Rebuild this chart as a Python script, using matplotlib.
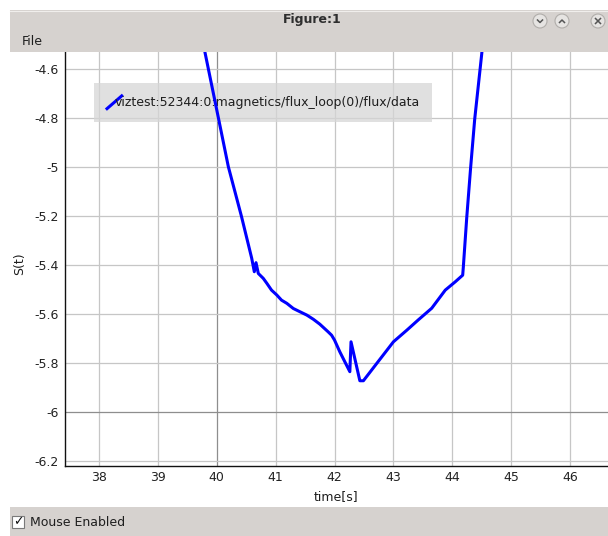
import matplotlib
matplotlib.use('Agg')
import matplotlib.pyplot as plt
from matplotlib.patches import Rectangle, Ellipse
from matplotlib.lines import Line2D
from matplotlib.legend_handler import HandlerBase

W, H = 608, 536

# flux loop signal
time_s = [39.76, 39.80, 40.03, 40.197, 40.42, 40.594, 40.638, 40.667, 40.706,
          40.79, 40.85, 40.93, 41.02, 41.10, 41.19, 41.30, 41.41, 41.53, 41.64,
          41.75, 41.89, 41.95, 42.00, 42.09, 42.26, 42.28, 42.43, 42.49, 42.74,
          43.00, 43.23, 43.42, 43.65, 43.88, 44.05, 44.176, 44.187, 44.245,
          44.31, 44.38, 44.50, 44.54]
flux = [-4.40, -4.53, -4.80, -4.997, -5.20, -5.371, -5.426, -5.389, -5.433,
        -5.453, -5.473, -5.501, -5.521, -5.542, -5.555, -5.576, -5.589, -5.603,
        -5.620, -5.640, -5.671, -5.685, -5.705, -5.753, -5.834, -5.712, -5.871,
        -5.871, -5.793, -5.712, -5.664, -5.623, -5.575, -5.501, -5.467, -5.440,
        -5.406, -5.204, -5.003, -4.803, -4.535, -4.42]
series_label = 'viztest:52344:0:magnetics/flux_loop(0)/flux/data'

x_ticks = [38, 39, 40, 41, 42, 43, 44, 45, 46]
y_ticks = [-4.6, -4.8, -5.0, -5.2, -5.4, -5.6, -5.8, -6.0, -6.2]
y_tick_labels = ['-4.6', '-4.8', '-5', '-5.2', '-5.4', '-5.6', '-5.8', '-6', '-6.2']

WIN_GRAY = '#d6d2cf'


def fx(x):
    return x / W


def fy(y):
    return 1 - y / H


class DiagonalHandler(HandlerBase):
    def create_artists(self, legend, orig_handle, xdescent, ydescent,
                       width, height, fontsize, trans):
        line = Line2D([-xdescent, width - xdescent],
                      [-ydescent, height - ydescent],
                      color=orig_handle.get_color(),
                      lw=orig_handle.get_linewidth(),
                      solid_capstyle='butt', transform=trans)
        return [line]


fig = plt.figure(figsize=(W / 100, H / 100), dpi=100)

# window chrome: title bar + menu bar, bottom status bar
fig.add_artist(Rectangle((fx(10), fy(52)), fx(W - 10), 42 / H,
                         transform=fig.transFigure, color=WIN_GRAY, lw=0))
fig.add_artist(Rectangle((fx(10), fy(H)), fx(W - 10), (H - 507) / H,
                         transform=fig.transFigure, color=WIN_GRAY, lw=0))
fig.add_artist(Line2D([fx(10), 1], [fy(10.5), fy(10.5)],
                      transform=fig.transFigure, color='#f0eeec', lw=0.8))
fig.text(fx(312), fy(20), 'Figure:1', ha='center', va='center',
         fontsize=9, fontweight='bold', color='#2e2e2e')
fig.text(fx(22), fy(41.5), 'File', ha='left', va='center',
         fontsize=9, color='#1e1e1e')

for i, bx in enumerate([540, 562, 598]):
    fig.add_artist(Ellipse((fx(bx), fy(21)), 14 / W, 14 / H,
                           transform=fig.transFigure, facecolor='#e6e4e2',
                           edgecolor='#b0adaa', lw=0.8))
    if i == 0:
        px, py = [bx - 2.5, bx, bx + 2.5], [20, 22.5, 20]
    elif i == 1:
        px, py = [bx - 2.5, bx, bx + 2.5], [22.5, 20, 22.5]
    else:
        px, py = [bx - 2.5, bx + 2.5], [18.5, 23.5]
        fig.add_artist(Line2D([fx(bx - 2.5), fx(bx + 2.5)], [fy(23.5), fy(18.5)],
                              transform=fig.transFigure, color='#555', lw=1.1))
    fig.add_artist(Line2D([fx(p) for p in px], [fy(p) for p in py],
                          transform=fig.transFigure, color='#555', lw=1.1))

fig.add_artist(Rectangle((fx(12), fy(528)), 12 / W, 12 / H,
                         transform=fig.transFigure, facecolor='white',
                         edgecolor='#7a7a7a', lw=0.8))
fig.text(fx(18), fy(522), '\u2713', ha='center', va='center',
         fontsize=9, fontweight='bold', color='#111')
fig.text(fx(30), fy(522.5), 'Mouse Enabled', ha='left', va='center',
         fontsize=9, color='#1e1e1e')

# plot area
ax = fig.add_axes([fx(65), fy(466), (W - 65) / W, (466 - 52) / H])
ax.set_axisbelow(True)
line, = ax.plot(time_s, flux, color='#0000ff', lw=2.2, zorder=3,
                label=series_label)

ax.set_xlim(37.424, 46.643)
ax.set_ylim(-6.219, -4.529)
ax.set_xticks(x_ticks)
ax.set_xticklabels([str(t) for t in x_ticks])
ax.set_yticks(y_ticks)
ax.set_yticklabels(y_tick_labels)
ax.tick_params(length=0, labelsize=9, labelcolor='#222')
ax.tick_params(axis='x', pad=3.5)
ax.tick_params(axis='y', pad=4.3)
ax.grid(True, color='#c6c6c6', lw=0.9)
for tick in ax.xaxis.get_major_ticks():
    if tick.get_loc() == 40:
        tick.gridline.set_color('#8e8e8e')
for tick in ax.yaxis.get_major_ticks():
    if abs(tick.get_loc() + 6.0) < 1e-9:
        tick.gridline.set_color('#8e8e8e')

for side in ['top', 'right']:
    ax.spines[side].set_visible(False)
for side in ['left', 'bottom']:
    ax.spines[side].set_color('#111')
    ax.spines[side].set_linewidth(1.0)

ax.set_xlabel('time[s]', fontsize=9, color='#1e1e1e')
ax.xaxis.set_label_coords((336 - 65) / (W - 65), (466 - 497) / 414)
ax.xaxis.label.set_va('center')
ax.set_ylabel('S(t)', fontsize=9, color='#1e1e1e')
ax.yaxis.set_label_coords((20 - 65) / (W - 65), (466 - 264) / 414)
ax.yaxis.label.set_va('center')

leg = ax.legend(handles=[line], handler_map={Line2D: DiagonalHandler()},
                loc='upper left',
                bbox_to_anchor=((94 - 65) / (W - 65), (466 - 83) / 414),
                fontsize=9, frameon=True, fancybox=False, framealpha=0.75,
                facecolor='#d6d6d6', edgecolor='none', borderpad=0.95,
                handlelength=1.36, handleheight=1.44, handletextpad=-0.66,
                borderaxespad=0)
leg.set_zorder(2)
for text in leg.get_texts():
    text.set_color('#1e1e1e')

fig.savefig('out.png', dpi=100)
